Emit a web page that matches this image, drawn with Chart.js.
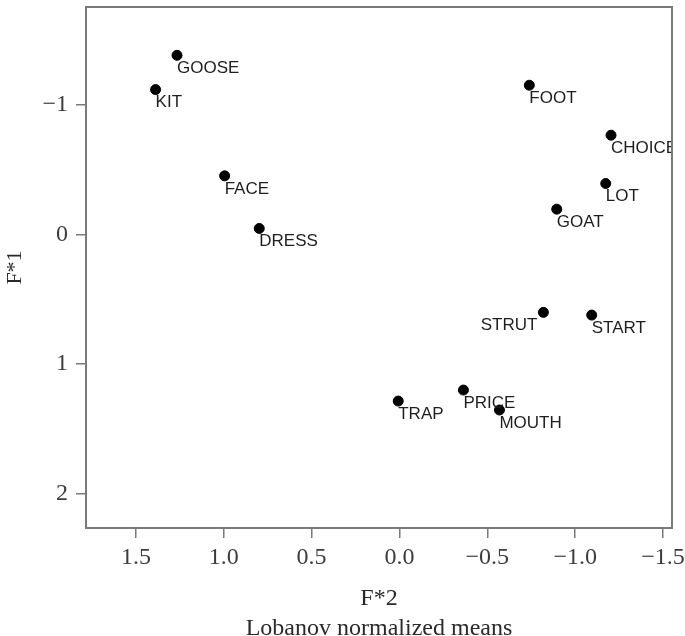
<!DOCTYPE html>
<html>
<head>
<meta charset="utf-8">
<script src="https://cdn.jsdelivr.net/npm/chart.js@4.4.1/dist/chart.umd.min.js"></script>
<style>
  html, body { margin: 0; padding: 0; background: #fff; }
  #wrap { width: 685px; height: 636px; }
</style>
</head>
<body>
<div id="wrap"><canvas id="myChart"></canvas></div>
<script>
// words and their formant means (F*2 on x, F*1 on y)
const words = ['GOOSE', 'KIT', 'FACE', 'DRESS', 'FOOT', 'CHOICE', 'LOT', 'GOAT', 'STRUT', 'START', 'TRAP', 'PRICE', 'MOUTH'];
const f2 = [1.266, 1.388, 0.995, 0.798, -0.739, -1.204, -1.174, -0.895, -0.819, -1.094, 0.007, -0.364, -0.569];
const f1 = [-1.385, -1.120, -0.454, -0.048, -1.154, -0.768, -0.395, -0.197, 0.600, 0.621, 1.285, 1.200, 1.354];
const xTicks = [1.5, 1.0, 0.5, 0.0, -0.5, -1.0, -1.5];
const yTicks = [-1, 0, 1, 2];

const serif = '"Liberation Serif", "DejaVu Serif", serif';
const axisGrey = '#7a7a7a';
const minus = s => String(s).replace('-', '\u2212');

// frame round the plotting area
const frame = {
  id: 'frame',
  afterDraw(chart) {
    const { ctx, chartArea: a } = chart;
    ctx.save();
    ctx.strokeStyle = axisGrey;
    ctx.lineWidth = 2;
    ctx.strokeRect(a.left, a.top, a.right - a.left, a.bottom - a.top);
    ctx.restore();
  }
};

// word labels next to each point
const pointLabels = {
  id: 'pointLabels',
  afterDatasetsDraw(chart) {
    const { ctx, chartArea: a } = chart;
    const meta = chart.getDatasetMeta(0);
    ctx.save();
    ctx.beginPath();
    ctx.rect(a.left, a.top, a.right - a.left, a.bottom - a.top);
    ctx.clip();
    ctx.font = '17px "Liberation Sans", Arial, sans-serif';
    ctx.fillStyle = '#1e1e1e';
    ctx.textBaseline = 'middle';
    meta.data.forEach((pt, i) => {
      const w = words[i];
      if (w === 'STRUT') {
        ctx.textAlign = 'right';
        ctx.fillText(w, pt.x - 6, pt.y + 13);
      } else {
        ctx.textAlign = 'left';
        ctx.fillText(w, pt.x + 0, pt.y + 13);
      }
    });
    ctx.restore();
  }
};

const ctx = document.getElementById('myChart').getContext('2d');
new Chart(ctx, {
  type: 'scatter',
  data: {
    datasets: [{
      data: words.map((w, i) => ({ x: f2[i], y: f1[i] })),
      backgroundColor: '#000',
      borderColor: '#000',
      pointRadius: 5,
      pointHoverRadius: 5
    }]
  },
  options: {
    responsive: true,
    maintainAspectRatio: false,
    animation: false,
    layout: { padding: { top: 7, right: 13, left: 0, bottom: 0 } },
    plugins: {
      legend: { display: false },
      tooltip: { enabled: false }
    },
    scales: {
      x: {
        type: 'linear',
        reverse: true,
        min: -1.551,
        max: 1.784,
        afterBuildTicks: s => { s.ticks = xTicks.map(v => ({ value: v })); },
        afterFit: s => { s.height = 108; s.paddingLeft = 0; s.paddingRight = 0; },
        ticks: {
          callback: v => minus(Number(v).toFixed(1)),
          color: '#3c3c3c',
          font: { family: serif, size: 24 },
          padding: 5,
          maxRotation: 0,
          autoSkip: false
        },
        grid: { drawOnChartArea: false, drawTicks: true, tickLength: 10, color: axisGrey, lineWidth: 1.5 },
        border: { display: false },
        title: {
          display: true,
          text: ['F*2', 'Lobanov normalized means'],
          color: '#2a2a2a',
          font: { family: serif, size: 24, lineHeight: 1.25 },
          padding: { top: 0, bottom: -8 }
        }
      },
      y: {
        type: 'linear',
        reverse: true,
        min: -1.758,
        max: 2.265,
        afterBuildTicks: s => { s.ticks = yTicks.map(v => ({ value: v })); },
        afterFit: s => { s.width = 86; s.paddingTop = 0; s.paddingBottom = 0; },
        ticks: {
          callback: v => minus(v),
          color: '#3c3c3c',
          font: { family: serif, size: 24 },
          padding: 8,
          autoSkip: false
        },
        grid: { drawOnChartArea: false, drawTicks: true, tickLength: 10, color: axisGrey, lineWidth: 1.5 },
        border: { display: false },
        title: {
          display: true,
          text: 'F*1',
          color: '#2a2a2a',
          font: { family: serif, size: 22 },
          padding: { top: 2, bottom: 0 }
        }
      }
    }
  },
  plugins: [frame, pointLabels]
});
</script>
</body>
</html>
